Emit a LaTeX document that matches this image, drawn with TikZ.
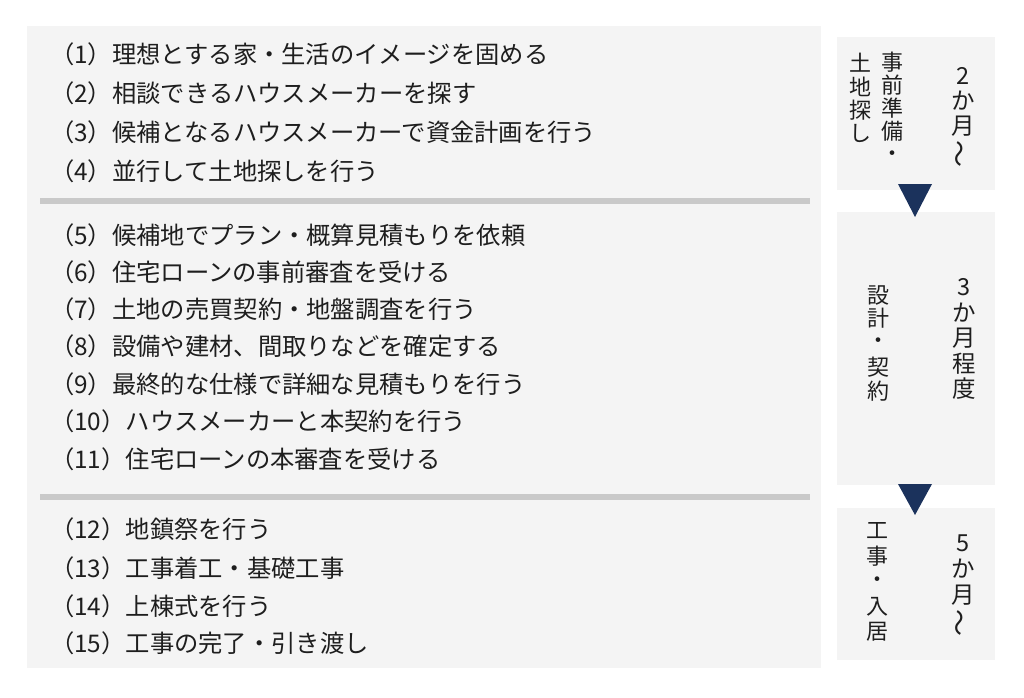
\documentclass[tikz,border=0pt]{standalone}
\usepackage{fontspec}
\setmainfont{Noto Sans CJK JP}
\definecolor{panel}{HTML}{F4F4F4}
\definecolor{sepbar}{HTML}{C9C9C9}
\definecolor{navy}{HTML}{1B325C}
\definecolor{ink}{HTML}{1E1E1E}
\begin{document}
\begin{tikzpicture}[x=1pt,y=-1pt,
  item/.style={anchor=base west, inner sep=0, font=\fontsize{24.3}{25}\selectfont, text=ink},
  vbig/.style={inner sep=0, font=\fontsize{23.5}{24}\selectfont, text=ink},
  vsmall/.style={inner sep=0, font=\fontsize{22}{22}\selectfont, text=ink},
  sep/.style={fill=sepbar},
  tri/.style={fill=navy}]
\useasboundingbox (0,0) rectangle (1024,697);
\fill[white] (0,0) rectangle (1024,697);
% panels
\fill[panel] (27,26) rectangle (821,668);
\fill[panel] (837,37) rectangle (995,190);
\fill[panel] (837,212) rectangle (995,485);
\fill[panel] (837,508) rectangle (995,660);
% separators
\fill[sep] (40,198) rectangle (810,204);
\fill[sep] (40,494) rectangle (810,500);
% triangles
\fill[tri] (898,184) -- (932,184) -- (915,217) -- cycle;
\fill[tri] (898,484) -- (932,484) -- (915,515) -- cycle;
% list items
\node[item] (i1)  at (50,63)  {（1）理想とする家・生活のイメージを固める};
\node[item] (i2)  at (50,102) {（2）相談できるハウスメーカーを探す};
\node[item] (i3)  at (50,141) {（3）候補となるハウスメーカーで資金計画を行う};
\node[item] (i4)  at (50,180) {（4）並行して土地探しを行う};
\node[item] (i5)  at (50,244) {（5）候補地でプラン・概算見積もりを依頼};
\node[item] (i6)  at (50,281) {（6）住宅ローンの事前審査を受ける};
\node[item] (i7)  at (50,318) {（7）土地の売買契約・地盤調査を行う};
\node[item] (i8)  at (50,355.5) {（8）設備や建材、間取りなどを確定する};
\node[item] (i9)  at (50,393) {（9）最終的な仕様で詳細な見積もりを行う};
\node[item] (i10) at (50,430.5) {（10）ハウスメーカーと本契約を行う};
\node[item] (i11) at (50,468) {（11）住宅ローンの本審査を受ける};
\node[item] (i12) at (50,538) {（12）地鎮祭を行う};
\node[item] (i13) at (50,577) {（13）工事着工・基礎工事};
\node[item] (i14) at (50,615) {（14）上棟式を行う};
\node[item] (i15) at (50,652) {（15）工事の完了・引き渡し};
% box 1 vertical text
\foreach \c/\y [count=\i] in {2/76,か/101,月/126}
  \node[vbig] (a\i) at (963,\y) {\c};
\node[vbig,rotate=90,scale=1.15] (a4) at (963,154) {〜};
\foreach \c/\y [count=\i] in {事/62,前/85,準/108,備/131,・/156}
  \node[vsmall] (b\i) at (892,\y) {\c};
\foreach \c/\y [count=\i] in {土/63,地/87,探/110,し/133}
  \node[vsmall] (c\i) at (860,\y) {\c};
% box 2 vertical text
\foreach \c/\y [count=\i] in {3/287,か/312.5,月/338,程/363.5,度/389}
  \node[vbig] (d\i) at (964,\y) {\c};
\foreach \c/\y [count=\i] in {設/295,計/318,・/343,契/367,約/391}
  \node[vsmall] (e\i) at (878,\y) {\c};
% box 3 vertical text
\foreach \c/\y [count=\i] in {5/543,か/569,月/595}
  \node[vbig] (f\i) at (963,\y) {\c};
\node[vbig,rotate=90,scale=1.15] (f4) at (963,623) {〜};
\foreach \c/\y [count=\i] in {工/531,事/556,・/582,入/607,居/632}
  \node[vsmall] (g\i) at (877,\y) {\c};
\end{tikzpicture}
\end{document}
